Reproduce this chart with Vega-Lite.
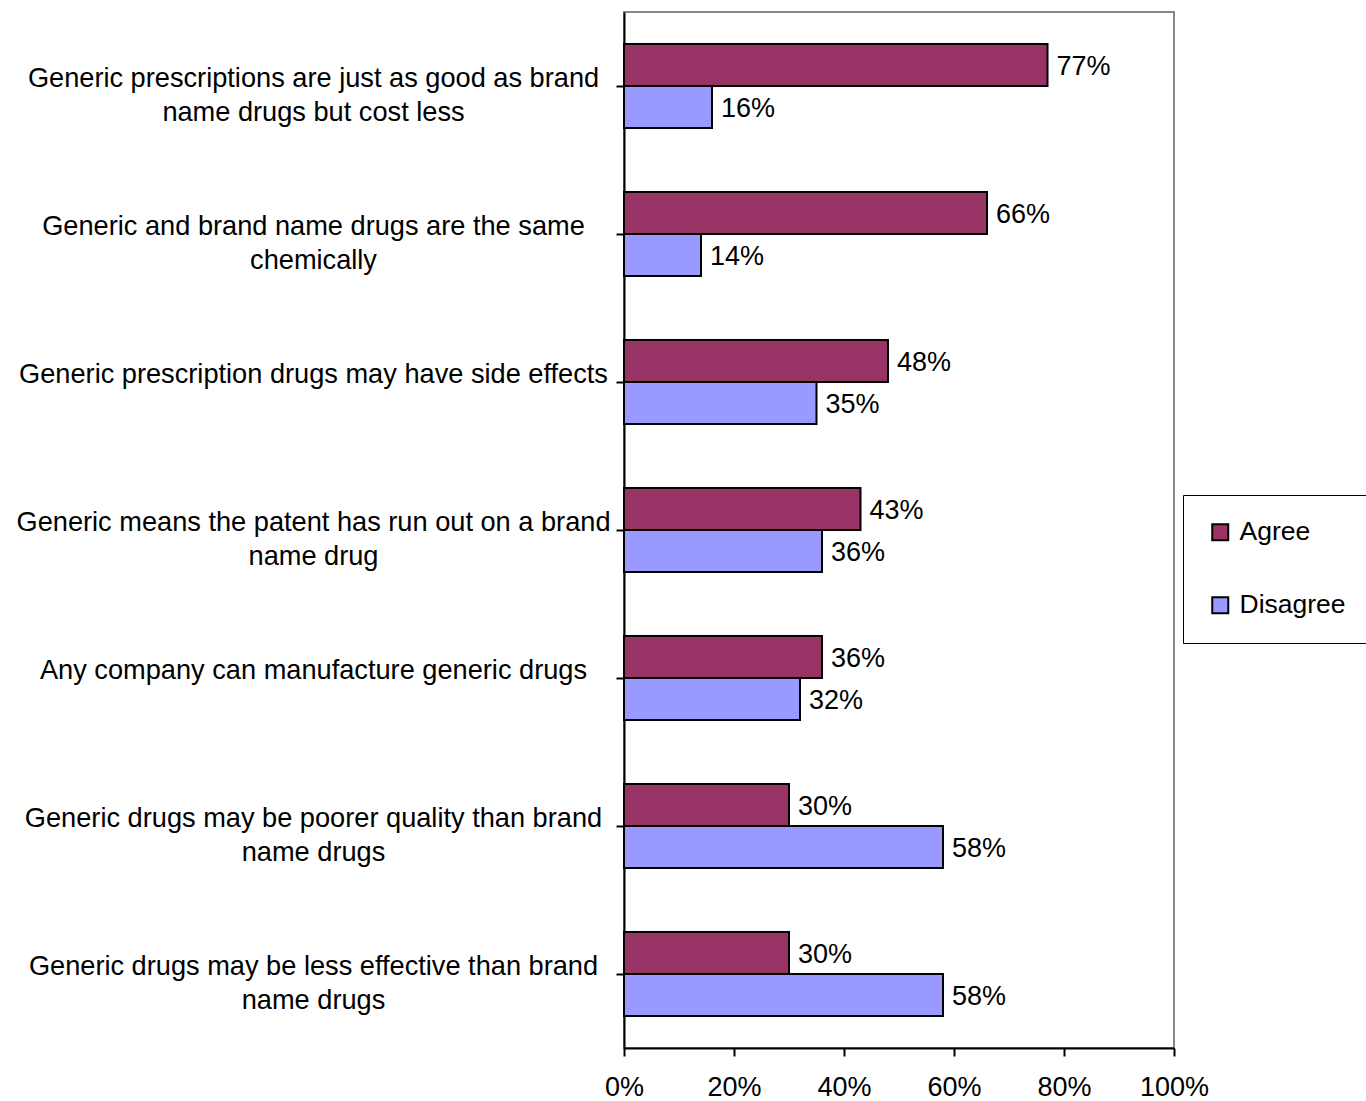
{
  "$schema": "https://vega.github.io/schema/vega-lite/v6.json",
  "width": 550,
  "height": 1036,
  "autosize": {"type": "none"},
  "padding": {"left": 624, "top": 12, "right": 192, "bottom": 53},
  "background": "white",
  "config": {
    "font": "Liberation Sans",
    "view": {"stroke": "#888888", "strokeWidth": 2},
    "axis": {"grid": false, "domainColor": "black", "domainWidth": 2, "tickColor": "black", "tickWidth": 2, "tickSize": 8, "labelColor": "black", "labelFont": "Liberation Sans"}
  },
  "data": {
    "values": [
      {"q": "Generic prescriptions are just as good as brand|name drugs but cost less", "response": "Agree", "pct": 0.77},
      {"q": "Generic prescriptions are just as good as brand|name drugs but cost less", "response": "Disagree", "pct": 0.16},
      {"q": "Generic and brand name drugs are the same|chemically", "response": "Agree", "pct": 0.66},
      {"q": "Generic and brand name drugs are the same|chemically", "response": "Disagree", "pct": 0.14},
      {"q": "Generic prescription drugs may have side effects", "response": "Agree", "pct": 0.48},
      {"q": "Generic prescription drugs may have side effects", "response": "Disagree", "pct": 0.35},
      {"q": "Generic means the patent has run out on a brand|name drug", "response": "Agree", "pct": 0.43},
      {"q": "Generic means the patent has run out on a brand|name drug", "response": "Disagree", "pct": 0.36},
      {"q": "Any company can manufacture generic drugs", "response": "Agree", "pct": 0.36},
      {"q": "Any company can manufacture generic drugs", "response": "Disagree", "pct": 0.32},
      {"q": "Generic drugs may be poorer quality than brand|name drugs", "response": "Agree", "pct": 0.30},
      {"q": "Generic drugs may be poorer quality than brand|name drugs", "response": "Disagree", "pct": 0.58},
      {"q": "Generic drugs may be less effective than brand|name drugs", "response": "Agree", "pct": 0.30},
      {"q": "Generic drugs may be less effective than brand|name drugs", "response": "Disagree", "pct": 0.58}
    ]
  },
  "encoding": {
    "y": {
      "field": "q",
      "type": "nominal",
      "sort": null,
      "title": null,
      "scale": {"paddingInner": 0, "paddingOuter": 0},
      "axis": {
        "labelExpr": "split(datum.value, '|')",
        "labelFontSize": 27.2,
        "labelLineHeight": 34,
        "labelAlign": "center",
        "labelLimit": 0,
        "labelPadding": 303,
        "labelOffset": -7
      }
    },
    "yOffset": {
      "field": "response",
      "type": "nominal",
      "sort": ["Agree", "Disagree"],
      "scale": {"paddingOuter": 0.762, "paddingInner": 0}
    },
    "x": {
      "field": "pct",
      "type": "quantitative",
      "title": null,
      "scale": {"domain": [0, 1], "nice": false},
      "axis": {"format": ".0%", "values": [0, 0.2, 0.4, 0.6, 0.8, 1], "labelFontSize": 27, "labelPadding": 18, "labelFlush": false}
    }
  },
  "layer": [
    {
      "mark": {"type": "bar", "stroke": "black", "strokeWidth": 2},
      "encoding": {
        "color": {
          "field": "response",
          "type": "nominal",
          "scale": {"domain": ["Agree", "Disagree"], "range": ["#993366", "#9999FF"]},
          "legend": {
            "title": null,
            "orient": "none",
            "legendX": 559,
            "legendY": 483,
            "strokeColor": "black",
            "fillColor": "white",
            "padding": 24,
            "symbolType": "square",
            "symbolSize": 256,
            "symbolStrokeColor": "black",
            "symbolStrokeWidth": 2,
            "labelFontSize": 26.5,
            "labelColor": "black",
            "labelOffset": 6,
            "rowPadding": 46
          }
        }
      }
    },
    {
      "mark": {"type": "text", "align": "left", "baseline": "middle", "dx": 9, "dy": 2, "fontSize": 27, "fill": "black"},
      "encoding": {"text": {"field": "pct", "type": "quantitative", "format": ".0%"}}
    }
  ]
}
